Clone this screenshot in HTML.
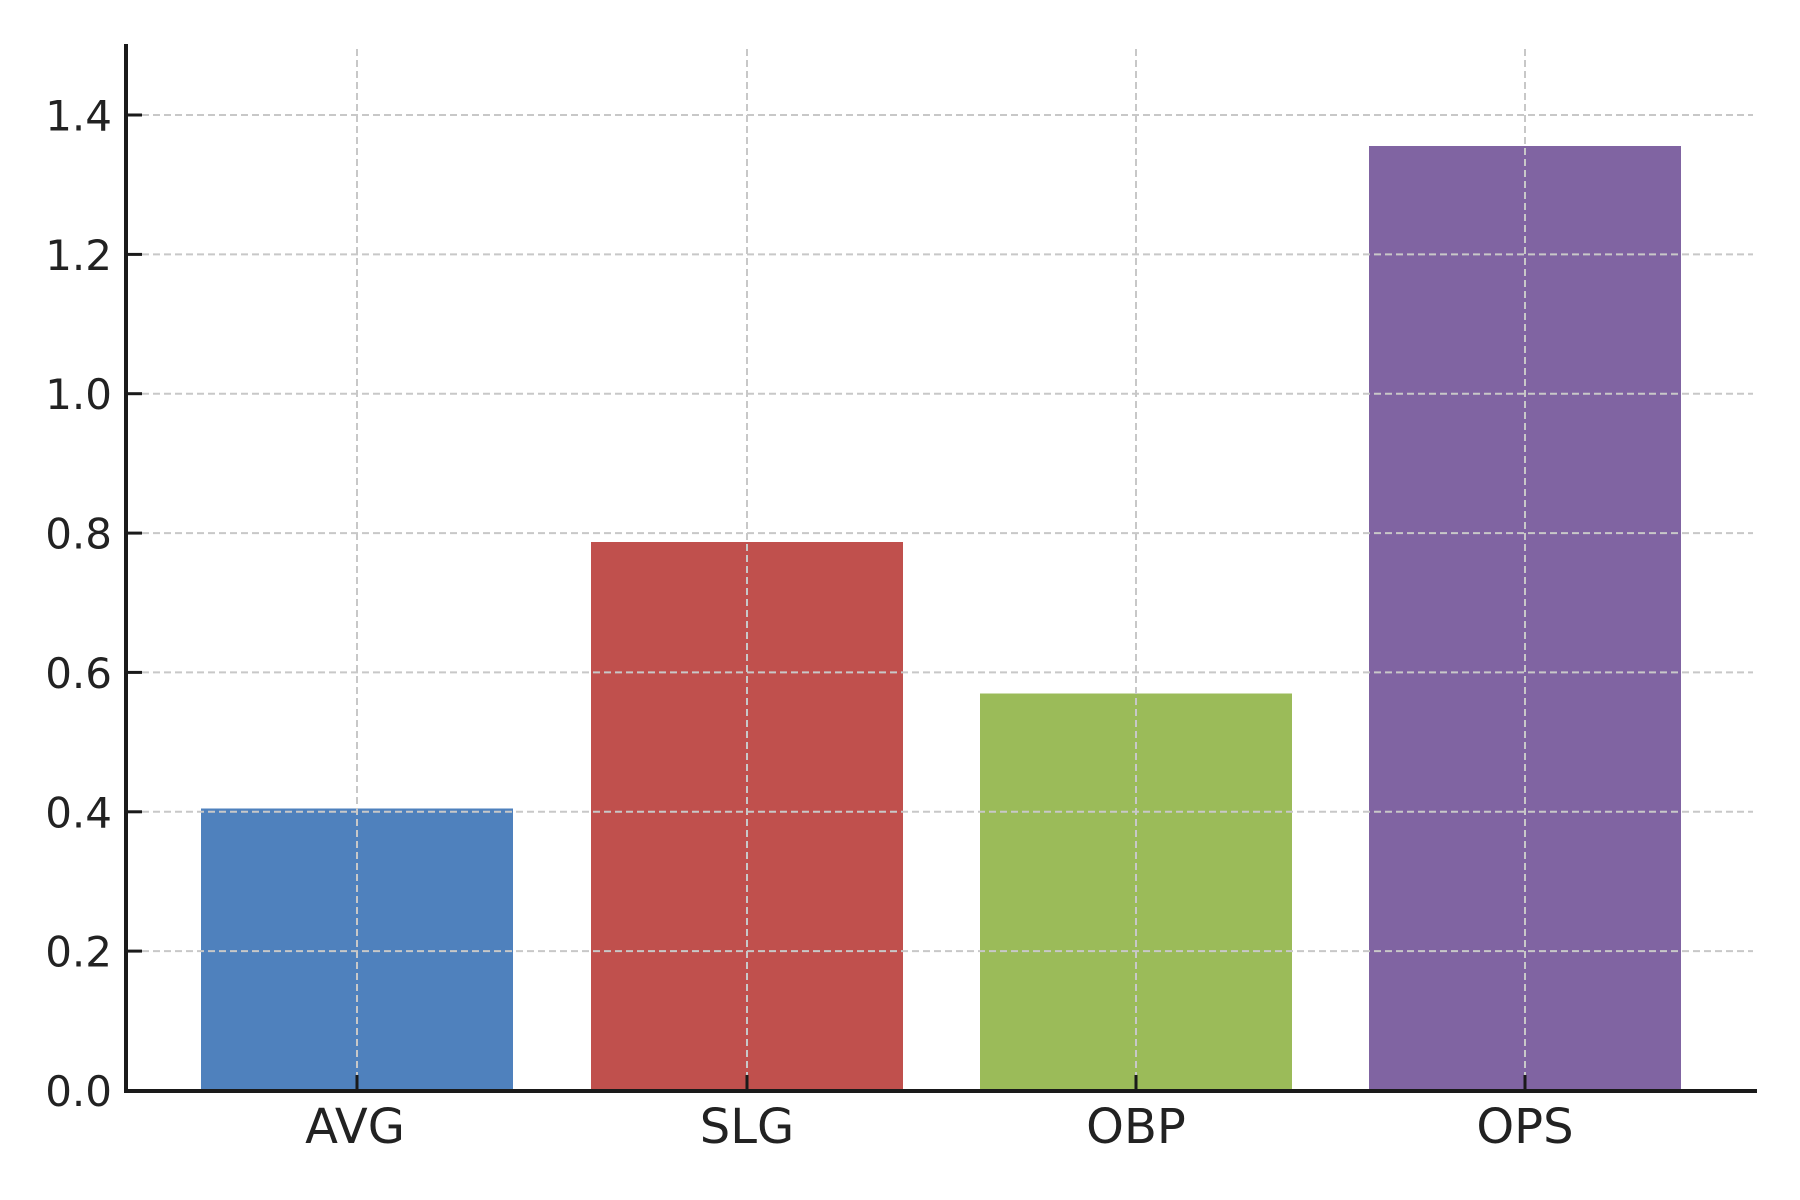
<!DOCTYPE html>
<html><head><meta charset="utf-8"><style>
html,body{margin:0;padding:0;background:#fff;}
svg{display:block;}
text{font-family:"DejaVu Sans","Liberation Sans",sans-serif;fill:#222;}
</style></head><body>
<svg width="1800" height="1200" viewBox="0 0 1800 1200" xmlns="http://www.w3.org/2000/svg">
<rect width="1800" height="1200" fill="#fff"/>
<!-- bars -->
<rect x="201" y="808.5" width="312" height="282" fill="#4f81bd"/>
<rect x="591" y="542" width="312" height="548.5" fill="#c0504d"/>
<rect x="980" y="693.5" width="312" height="397" fill="#9bbb59"/>
<rect x="1369" y="146" width="312" height="944.5" fill="#8064a2"/>
<!-- grid -->
<g stroke="#c8c8c8" stroke-width="2" stroke-dasharray="7,4" fill="none">
<line x1="142" x2="1753" y1="115" y2="115"/>
<line x1="142" x2="1753" y1="254.4" y2="254.4"/>
<line x1="142" x2="1753" y1="393.7" y2="393.7"/>
<line x1="142" x2="1753" y1="533.1" y2="533.1"/>
<line x1="142" x2="1753" y1="672.4" y2="672.4"/>
<line x1="142" x2="1753" y1="811.8" y2="811.8"/>
<line x1="142" x2="1753" y1="951.1" y2="951.1"/>
<line x1="357" x2="357" y1="49" y2="1075"/>
<line x1="747" x2="747" y1="49" y2="1075"/>
<line x1="1136" x2="1136" y1="49" y2="1075"/>
<line x1="1525" x2="1525" y1="49" y2="1075"/>
</g>
<!-- spines -->
<line x1="126" x2="126" y1="44" y2="1093" stroke="#1a1a1a" stroke-width="4"/>
<line x1="124" x2="1757" y1="1091" y2="1091" stroke="#1a1a1a" stroke-width="4"/>
<!-- ticks -->
<g stroke="#1a1a1a" stroke-width="3">
<line x1="126" x2="142" y1="115" y2="115"/>
<line x1="126" x2="142" y1="254.4" y2="254.4"/>
<line x1="126" x2="142" y1="393.7" y2="393.7"/>
<line x1="126" x2="142" y1="533.1" y2="533.1"/>
<line x1="126" x2="142" y1="672.4" y2="672.4"/>
<line x1="126" x2="142" y1="811.8" y2="811.8"/>
<line x1="126" x2="142" y1="951.1" y2="951.1"/>
<line x1="357" x2="357" y1="1075" y2="1091"/>
<line x1="747" x2="747" y1="1075" y2="1091"/>
<line x1="1136" x2="1136" y1="1075" y2="1091"/>
<line x1="1525" x2="1525" y1="1075" y2="1091"/>
</g>
<!-- y labels -->
<g font-size="42" text-anchor="end">
<text x="112" y="130.5">1.4</text>
<text x="112" y="269.9">1.2</text>
<text x="112" y="409.2">1.0</text>
<text x="112" y="548.6">0.8</text>
<text x="112" y="687.9">0.6</text>
<text x="112" y="827.3">0.4</text>
<text x="112" y="966.6">0.2</text>
<text x="112" y="1106">0.0</text>
</g>
<!-- x labels -->
<g font-size="48" text-anchor="middle">
<text x="355" y="1143">AVG</text>
<text x="747" y="1143">SLG</text>
<text x="1136" y="1143">OBP</text>
<text x="1525" y="1143">OPS</text>
</g>
</svg>
</body></html>
